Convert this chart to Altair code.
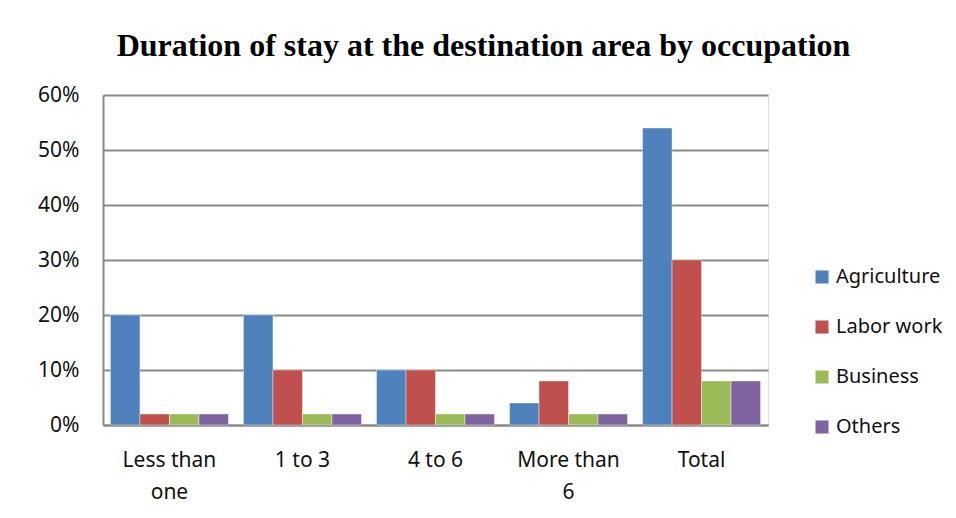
import altair as alt
import pandas as pd

categories = ["Less than one", "1 to 3", "4 to 6", "More than 6", "Total"]
occupations = ["Agriculture", "Labor work", "Business", "Others"]
agriculture = [0.20, 0.20, 0.10, 0.04, 0.54]
labor_work = [0.02, 0.10, 0.10, 0.08, 0.30]
business = [0.02, 0.02, 0.02, 0.02, 0.08]
others = [0.02, 0.02, 0.02, 0.02, 0.08]
colors = ["#4F81BD", "#C0504D", "#9BBB59", "#8064A2"]
y_ticks = [0, 0.1, 0.2, 0.3, 0.4, 0.5, 0.6]

series = [agriculture, labor_work, business, others]
rows = []
for occ, vals in zip(occupations, series):
    for cat, v in zip(categories, vals):
        rows.append({"Duration": cat, "Occupation": occ, "Share": v})
df = pd.DataFrame(rows)

W, H = 665, 330
FONT = "Noto Sans"
FS = 21

label_expr = ("datum.label == 'Less than one' ? ['Less than', 'one'] : "
              "datum.label == 'More than 6' ? ['More than', '6'] : datum.label")

bars = alt.Chart(df).mark_bar(stroke="white", strokeWidth=0.4).encode(
    x=alt.X("Duration:N", sort=categories, title=None,
            scale=alt.Scale(paddingInner=0.113, paddingOuter=0.056),
            axis=alt.Axis(labelAngle=0, ticks=False, labelPadding=24,
                          labelExpr=label_expr, labelFontSize=FS, labelFont=FONT,
                          labelColor="#111111", labelLineHeight=32,
                          domainColor="#888888", domainWidth=2, grid=False)),
    xOffset=alt.XOffset("Occupation:N", sort=occupations,
                        scale=alt.Scale(paddingInner=0, paddingOuter=0)),
    y=alt.Y("Share:Q", title=None,
            scale=alt.Scale(domain=[0, 0.6], nice=False),
            axis=alt.Axis(values=y_ticks, format=".0%", ticks=False, labelPadding=24,
                          labelFontSize=FS, labelFont=FONT, labelColor="#111111",
                          domainColor="#888888", domainWidth=2,
                          gridColor="#8a8a8a", gridWidth=2)),
    color=alt.Color("Occupation:N", sort=occupations,
                    scale=alt.Scale(domain=occupations, range=colors),
                    legend=alt.Legend(title=None, orient="none", legendX=709, legendY=172,
                                      symbolType="square", symbolSize=170,
                                      symbolStrokeWidth=0, labelFontSize=20,
                                      labelFont=FONT, labelColor="#111111",
                                      rowPadding=30, labelOffset=4, padding=0,
                                      labelLimit=300)),
)

chart = bars.properties(
    width=W, height=H,
    title=alt.TitleParams("Duration of stay at the destination area by occupation",
                          font="Liberation Serif", fontSize=32, fontWeight="bold",
                          color="#000000", anchor="middle", dx=48, offset=21),
    autosize=alt.AutoSizeParams(type="none"),
    padding={"left": 95, "top": 87, "right": 180, "bottom": 80},
).configure_view(stroke=None).configure(background="white")

chart.save("out.html", embed_options={"renderer": "svg", "actions": False})
